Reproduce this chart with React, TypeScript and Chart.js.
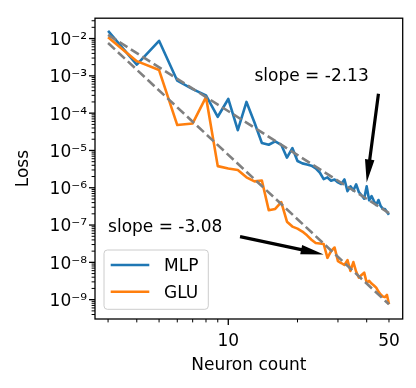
import React, { useEffect, useRef } from "react";
import { Chart, registerables } from "chart.js";

Chart.register(...registerables);

// ---- data ----
const neuronCounts = [
  3, 4, 5, 6, 7, 8, 9, 10, 11, 12, 13, 14, 15, 16, 17, 18, 19, 20, 21, 22, 23, 24, 25, 26,
  27, 28, 29, 30, 31, 32, 33, 34, 35, 36, 37, 38, 39, 40, 41, 42, 43, 44, 45, 46, 47, 48, 49, 50,
];
const mlpLoss = [
  1.6e-2, 2.0e-3, 8.7e-3, 7.4e-4, 4.4e-4, 3.0e-4, 8.0e-5, 2.4e-4, 3.5e-5, 2.0e-4, 5.6e-5, 1.58e-5,
  1.42e-5, 1.75e-5, 1.42e-5, 6.4e-6, 1.16e-5, 5.2e-6, 4.5e-6, 4.2e-6, 3.9e-6, 3.3e-6, 2.56e-6, 1.7e-6,
  1.89e-6, 1.55e-6, 1.67e-6, 1.39e-6, 1.26e-6, 1.67e-6, 8.1e-7, 1.09e-6, 8.4e-7, 1.23e-6, 7.6e-7, 6.3e-7,
  5.1e-7, 1.09e-6, 4.6e-7, 6.0e-7, 4.4e-7, 3.45e-7, 4.7e-7, 3.25e-7, 2.75e-7, 2.7e-7, 2.25e-7, 1.9e-7,
];
const gluLoss = [
  1.09e-2, 2.48e-3, 1.43e-3, 4.8e-5, 5.3e-5, 2.7e-4, 3.8e-6, 3.3e-6, 3.0e-6, 1.9e-6, 1.48e-6, 1.57e-6,
  2.5e-7, 2.7e-7, 4.1e-7, 1.23e-7, 9.1e-8, 8.0e-8, 6.7e-8, 5.3e-8, 4.05e-8, 3.3e-8, 3.2e-8, 3.1e-8,
  1.32e-8, 1.99e-8, 2.5e-8, 1.08e-8, 9.6e-9, 8.5e-9, 1.15e-8, 5.9e-9, 1.02e-8, 5.6e-9, 3.9e-9, 4.6e-9,
  5.3e-9, 2.85e-9, 3.2e-9, 2.7e-9, 2.4e-9, 2.1e-9, 1.65e-9, 1.38e-9, 1.22e-9, 1.17e-9, 1.34e-9, 7.5e-10,
];
const fitEnds = [3, 50];
const mlpFit = [1.25e-2, 2.1e-7];
const gluFit = [7.6e-3, 7.5e-10];

const xTickValues = [10, 50];
const yTickValues = [1e-9, 1e-8, 1e-7, 1e-6, 1e-5, 1e-4, 1e-3, 1e-2];
const seriesLabels = ["MLP", "GLU"];
const slopeTexts = ["slope = -2.13", "slope = -3.08"];
const slopeTextAt = [
  [13, 7.1e-4],
  [3, 6.4e-8],
];
const arrowFrom = [
  [45, 3.3e-4],
  [11.25, 4.9e-8],
];
const arrowTo = [
  [40, 1.39e-6],
  [26, 1.63e-8],
];

const FONT = "'DejaVu Sans', sans-serif";
const FS = 17;
const BLUE = "#1f77b4";
const ORANGE = "#ff7f0e";
const GRAY = "#808080";

const SUP: Record<string, string> = {
  "-": "\u207B", "0": "\u2070", "1": "\u00B9", "2": "\u00B2", "3": "\u00B3", "4": "\u2074",
  "5": "\u2075", "6": "\u2076", "7": "\u2077", "8": "\u2078", "9": "\u2079",
};
const sup = (s: string) => s.split("").map((c) => SUP[c] ?? c).join("");

function drawArrow(ctx: CanvasRenderingContext2D, x1: number, y1: number, x2: number, y2: number) {
  const dx = x2 - x1, dy = y2 - y1;
  const len = Math.hypot(dx, dy);
  const ux = dx / len, uy = dy / len;
  const nx = -uy, ny = ux;
  const headLen = 23, headW = 9.5, shaftW = 3.2;
  const bx = x2 - ux * headLen, by = y2 - uy * headLen;
  ctx.fillStyle = "#000";
  ctx.beginPath();
  ctx.moveTo(x1 + nx * shaftW / 2, y1 + ny * shaftW / 2);
  ctx.lineTo(bx + nx * shaftW / 2, by + ny * shaftW / 2);
  ctx.lineTo(bx + nx * headW / 2, by + ny * headW / 2);
  ctx.lineTo(x2, y2);
  ctx.lineTo(bx - nx * headW / 2, by - ny * headW / 2);
  ctx.lineTo(bx - nx * shaftW / 2, by - ny * shaftW / 2);
  ctx.lineTo(x1 - nx * shaftW / 2, y1 - ny * shaftW / 2);
  ctx.closePath();
  ctx.fill();
}

const decorPlugin = {
  id: "decor",
  afterDatasetsDraw(chart: any) {
    const { ctx, chartArea: a, scales } = chart;
    const xs = scales.x, ys = scales.y;
    ctx.save();
    ctx.strokeStyle = "#000";
    // x ticks
    for (let d = -1; d <= 2; d++) {
      for (let m = 1; m <= 9; m++) {
        const v = m * Math.pow(10, d);
        if (v < xs.min || v > xs.max) continue;
        const p = xs.getPixelForValue(v);
        const major = m === 1;
        ctx.lineWidth = major ? 1.3 : 1;
        ctx.beginPath();
        ctx.moveTo(p, a.bottom);
        ctx.lineTo(p, a.bottom + (major ? 6 : 3.4));
        ctx.stroke();
      }
    }
    // y ticks
    for (let d = -11; d <= 0; d++) {
      for (let m = 1; m <= 9; m++) {
        const v = m * Math.pow(10, d);
        if (v < ys.min || v > ys.max) continue;
        const p = ys.getPixelForValue(v);
        const major = m === 1;
        ctx.lineWidth = major ? 1.3 : 1;
        ctx.beginPath();
        ctx.moveTo(a.left, p);
        ctx.lineTo(a.left - (major ? 6 : 3.4), p);
        ctx.stroke();
      }
    }
    // frame
    ctx.lineWidth = 1.3;
    ctx.strokeRect(a.left, a.top, a.right - a.left, a.bottom - a.top);

    // annotations
    ctx.font = `${FS}px ${FONT}`;
    ctx.fillStyle = "#000";
    ctx.textAlign = "left";
    ctx.textBaseline = "alphabetic";
    slopeTexts.forEach((t, i) => {
      const tx = xs.getPixelForValue(slopeTextAt[i][0]);
      const ty = ys.getPixelForValue(slopeTextAt[i][1]);
      ctx.fillText(t, tx, ty);
      drawArrow(
        ctx,
        xs.getPixelForValue(arrowFrom[i][0]),
        ys.getPixelForValue(arrowFrom[i][1]),
        xs.getPixelForValue(arrowTo[i][0]),
        ys.getPixelForValue(arrowTo[i][1])
      );
    });

    // legend
    const lx = a.left + 9, lw = 104.3, lh = 59.3;
    const ly = a.bottom - 9.7 - lh;
    ctx.beginPath();
    (ctx as any).roundRect(lx, ly, lw, lh, 3.4);
    ctx.fillStyle = "rgba(255,255,255,0.8)";
    ctx.fill();
    ctx.strokeStyle = "#cccccc";
    ctx.lineWidth = 1;
    ctx.stroke();
    const colors = [BLUE, ORANGE];
    seriesLabels.forEach((lab, i) => {
      const yy = ly + 15 + i * 26.7;
      ctx.strokeStyle = colors[i];
      ctx.lineWidth = 2.6;
      ctx.beginPath();
      ctx.moveTo(lx + 6.7, yy);
      ctx.lineTo(lx + 45.3, yy);
      ctx.stroke();
      ctx.fillStyle = "#000";
      ctx.fillText(lab, lx + 60, yy + 6);
    });
    ctx.restore();
  },
};

export default function App() {
  const ref = useRef<HTMLCanvasElement | null>(null);
  useEffect(() => {
    if (!ref.current) return;
    const font = { family: FONT, size: FS };
    const chart = new Chart(ref.current, {
      type: "line",
      data: {
        datasets: [
          {
            label: seriesLabels[0],
            data: neuronCounts.map((n, i) => ({ x: n, y: mlpLoss[i] })),
            borderColor: BLUE,
            borderWidth: 2.6,
            pointRadius: 0,
            borderJoinStyle: "round",
            order: 3,
          },
          {
            label: seriesLabels[1],
            data: neuronCounts.map((n, i) => ({ x: n, y: gluLoss[i] })),
            borderColor: ORANGE,
            borderWidth: 2.6,
            pointRadius: 0,
            borderJoinStyle: "round",
            order: 2,
          },
          {
            label: "MLP fit",
            data: fitEnds.map((n, i) => ({ x: n, y: mlpFit[i] })),
            borderColor: GRAY,
            borderWidth: 2.6,
            borderDash: [9.4, 4.1],
            pointRadius: 0,
            order: 1,
          },
          {
            label: "GLU fit",
            data: fitEnds.map((n, i) => ({ x: n, y: gluFit[i] })),
            borderColor: GRAY,
            borderWidth: 2.6,
            borderDash: [9.4, 4.1],
            pointRadius: 0,
            order: 1,
          },
        ],
      },
      options: {
        responsive: false,
        animation: false,
        events: [],
        layout: { padding: { top: 13, right: 13.3, left: 0, bottom: 0 } },
        plugins: { legend: { display: false }, tooltip: { enabled: false } },
        scales: {
          x: {
            type: "logarithmic",
            min: 2.632,
            max: 57.37,
            grid: { display: false, drawTicks: false },
            border: { display: false },
            afterBuildTicks: (s: any) => {
              s.ticks = xTickValues.map((v) => ({ value: v }));
            },
            afterFit: (s: any) => {
              s.height = 69;
            },
            ticks: {
              font,
              color: "#000",
              padding: 12.4,
              autoSkip: false,
              maxRotation: 0,
              callback: (v: any) => String(v),
            },
            title: {
              display: true,
              text: "Neuron count",
              font,
              color: "#000",
              padding: { top: 0, bottom: 12 },
            },
          },
          y: {
            type: "logarithmic",
            min: 3.03e-10,
            max: 3.512e-2,
            grid: { display: false, drawTicks: false },
            border: { display: false },
            afterBuildTicks: (s: any) => {
              s.ticks = yTickValues.map((v) => ({ value: v }));
            },
            afterFit: (s: any) => {
              s.width = 95;
            },
            ticks: {
              font,
              color: "#000",
              padding: 8,
              labelOffset: 2,
              autoSkip: false,
              callback: (v: any) => "10" + sup(String(Math.round(Math.log10(Number(v))))),
            },
            title: {
              display: true,
              text: "Loss",
              font,
              color: "#000",
              padding: { top: 13, bottom: 0 },
            },
          },
        },
      },
      plugins: [decorPlugin],
    } as any);
    return () => chart.destroy();
  }, []);
  return (
    <div style={{ position: "absolute", left: 0, top: 0, width: 416, height: 388, background: "#fff" }}>
      <canvas ref={ref} width={416} height={388} style={{ display: "block", width: 416, height: 388 }} />
    </div>
  );
}
